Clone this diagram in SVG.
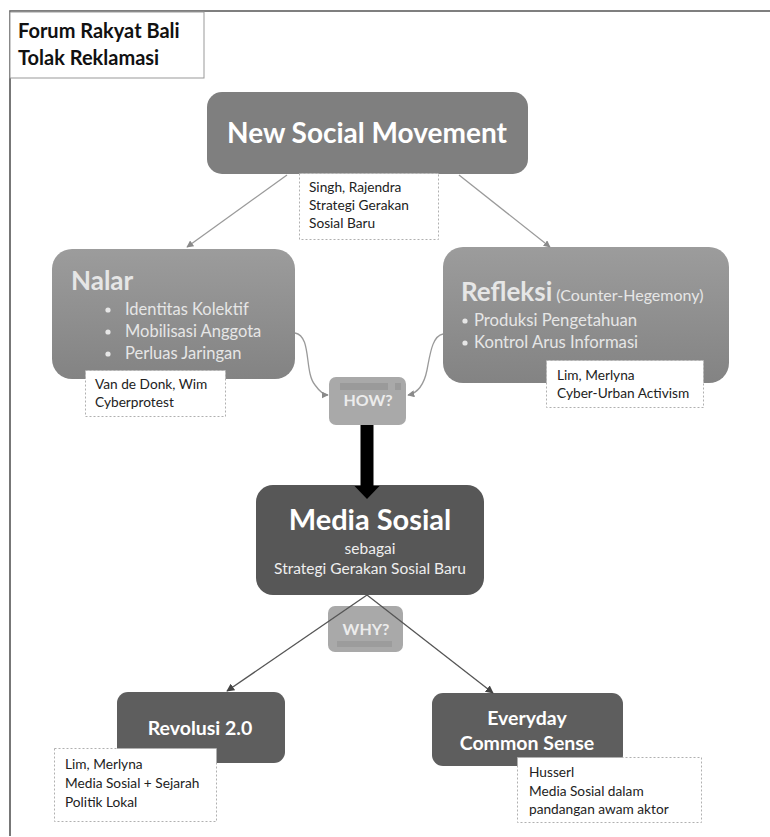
<svg xmlns="http://www.w3.org/2000/svg" width="770" height="837" viewBox="0 0 770 837">
<style>
text{font-family:Lato,"Open Sans","Liberation Sans",sans-serif}
.note{fill:#fff;stroke:#b0b0b0;stroke-width:1;stroke-dasharray:2,2}
.nt{font-size:13.7px;fill:#222}
.lt{fill:#e6e6e6}
.w{fill:#fff}
.b{font-weight:bold}
.gl{fill:none;stroke:#9a9a9a;stroke-width:1.3}
.dl{fill:none;stroke:#555;stroke-width:1.3}
</style>
<defs>
<linearGradient id="gr" x1="0" y1="0" x2="0" y2="1">
<stop offset="0" stop-color="#9c9c9c"/>
<stop offset="1" stop-color="#838383"/>
</linearGradient>
<marker id="ag" viewBox="0 0 10 10" refX="9" refY="5" markerWidth="7" markerHeight="7" orient="auto" markerUnits="userSpaceOnUse">
<path d="M0,0 L10,5 L0,10 z" fill="#8a8a8a"/>
</marker>
<marker id="ad" viewBox="0 0 10 10" refX="9" refY="5" markerWidth="8" markerHeight="8" orient="auto" markerUnits="userSpaceOnUse">
<path d="M0,0 L10,5 L0,10 z" fill="#444"/>
</marker>
</defs>
<rect width="770" height="837" fill="#fff"/>
<path d="M10,836 V11 H770" fill="none" stroke="#555" stroke-width="1.6"/>

<g id="title">
<rect x="10" y="12" width="194" height="66" fill="#fff" stroke="#999" stroke-width="1"/>
<text x="18" y="38" font-size="20" class="b" fill="#111">Forum Rakyat Bali</text>
<text x="18" y="65" font-size="20" class="b" fill="#111">Tolak Reklamasi</text>
</g>

<g id="nsm">
<rect x="207" y="92" width="321" height="82" rx="15" fill="#7f7f7f"/>
<text x="367" y="143" font-size="28" class="b w" text-anchor="middle">New Social Movement</text>
<rect class="note" x="299.5" y="173.5" width="139" height="66"/>
<text class="nt" x="309" y="192">Singh, Rajendra</text>
<text class="nt" x="309" y="210">Strategi Gerakan</text>
<text class="nt" x="309" y="228">Sosial Baru</text>
</g>

<g id="nalar">
<rect x="52" y="249" width="243" height="130" rx="20" fill="url(#gr)"/>
<text x="71" y="290" font-size="26" class="b lt">Nalar</text>
<g font-size="16.5" class="lt">
<circle cx="108" cy="310" r="2.6" fill="#e6e6e6"/>
<text x="125" y="315">Identitas Kolektif</text>
<circle cx="108" cy="332" r="2.6" fill="#e6e6e6"/>
<text x="125" y="337">Mobilisasi Anggota</text>
<circle cx="108" cy="354" r="2.6" fill="#e6e6e6"/>
<text x="125" y="359">Perluas Jaringan</text>
</g>
<rect class="note" x="85.5" y="370.5" width="140" height="46"/>
<text class="nt" x="95" y="389">Van de Donk, Wim</text>
<text class="nt" x="95" y="407">Cyberprotest</text>
</g>

<g id="refleksi">
<rect x="443" y="247" width="286" height="136" rx="20" fill="url(#gr)"/>
<text x="461" y="301" class="lt"><tspan font-size="26" class="b">Refleksi</tspan><tspan font-size="16"> (Counter-Hegemony)</tspan></text>
<g font-size="16.7" class="lt">
<circle cx="465" cy="321" r="2.6" fill="#e6e6e6"/>
<text x="474" y="326">Produksi Pengetahuan</text>
<circle cx="465" cy="343" r="2.6" fill="#e6e6e6"/>
<text x="474" y="348">Kontrol Arus Informasi</text>
</g>
<rect class="note" x="546.5" y="360.5" width="157" height="47"/>
<text class="nt" x="557" y="380">Lim, Merlyna</text>
<text class="nt" x="557" y="398">Cyber-Urban Activism</text>
</g>

<g id="how">
<rect x="329" y="377" width="77" height="48" rx="7" fill="#a9a9a9"/>
<rect x="340" y="383" width="48" height="7" fill="#9a9a9a"/>
<rect x="395" y="383" width="6" height="7" fill="#9a9a9a"/>
<text x="368" y="406" font-size="16" class="b" fill="#ececec" text-anchor="middle">HOW?</text>
</g>

<g id="media">
<rect x="256" y="485" width="228" height="110" rx="17" fill="#575757"/>
<text x="370" y="530" font-size="29" class="b w" text-anchor="middle">Media Sosial</text>
<text x="370" y="554" font-size="15.5" fill="#eee" text-anchor="middle">sebagai</text>
<text x="370" y="574" font-size="15.5" fill="#eee" text-anchor="middle">Strategi Gerakan Sosial Baru</text>
</g>

<g id="why">
<rect x="328" y="606" width="75" height="46" rx="7" fill="#a9a9a9"/>
<rect x="337" y="641" width="55" height="6" fill="#9c9c9c"/>
<text x="366" y="635" font-size="16" class="b" fill="#ececec" text-anchor="middle">WHY?</text>
</g>

<g id="revolusi">
<rect x="117" y="692" width="168" height="71" rx="11" fill="#5e5e5e"/>
<text x="200" y="735" font-size="19.5" class="b w" text-anchor="middle">Revolusi 2.0</text>
<rect class="note" x="54.5" y="748.5" width="162" height="73"/>
<text class="nt" x="65" y="769">Lim, Merlyna</text>
<text class="nt" x="65" y="788">Media Sosial + Sejarah</text>
<text class="nt" x="65" y="807">Politik Lokal</text>
</g>

<g id="everyday">
<rect x="432" y="693" width="191" height="73" rx="11" fill="#5e5e5e"/>
<text x="527" y="725" font-size="19.5" class="b w" text-anchor="middle">Everyday</text>
<text x="527" y="750" font-size="19.5" class="b w" text-anchor="middle">Common Sense</text>
<rect class="note" x="517.5" y="757.5" width="184" height="65"/>
<text class="nt" x="529" y="777">Husserl</text>
<text class="nt" x="529" y="796">Media Sosial dalam</text>
<text class="nt" x="529" y="814">pandangan awam aktor</text>
</g>

<g id="connectors">
<line class="gl" x1="287" y1="175" x2="187" y2="247" marker-end="url(#ag)"/>
<line class="gl" x1="459" y1="175" x2="550" y2="247" marker-end="url(#ag)"/>
<path class="gl" d="M295,333 C312,336 304,372 315,385 C320,392 324,395 328,395" marker-end="url(#ag)"/>
<path class="gl" d="M443,334 C432,336 430,355 427,370 C424,385 418,393 408,395" marker-end="url(#ag)"/>
<path d="M360.5,425 H373.5 V486 H379.5 L367,499 L354.5,486 H360.5 Z" fill="#000"/>
<line class="dl" x1="367" y1="595" x2="227" y2="691" marker-end="url(#ad)"/>
<line class="dl" x1="367" y1="595" x2="493" y2="693" marker-end="url(#ad)"/>
</g>
</svg>
